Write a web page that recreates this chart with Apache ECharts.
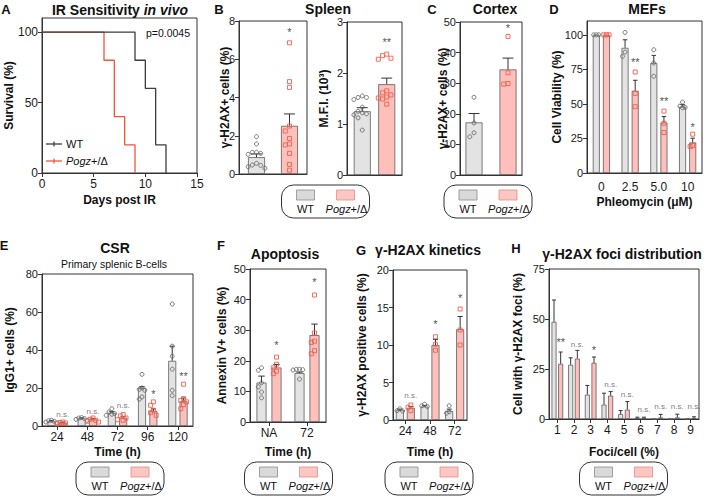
<!DOCTYPE html>
<html><head><meta charset="utf-8">
<script src="https://cdn.jsdelivr.net/npm/echarts@6/dist/echarts.min.js"></script>
<style>html,body{margin:0;padding:0;background:#fff}#c{width:709px;height:500px}</style>
</head><body><div id="c"></div>
<script>
// ================= DATA =================
// Panel A – survival (Kaplan-Meier)
const aWtDays = [0, 9, 10, 11, 12];
const aWtSurv = [100, 80, 60, 20, 0];
const aPzDays = [0, 6, 7, 8, 9];
const aPzSurv = [100, 80, 40, 20, 0];
const aXTicks = [0, 5, 10, 15];
const aYTicks = [0, 50, 100];
const aPValue = 'p=0.0045';

// Panel B (left) – γ-H2AX+ cells (%)
const b1WtMean = [0.88], b1WtErr = [1.05];
const b1PzMean = [2.52], b1PzErr = [3.14];
const b1WtPts = [[1.95, 1.57, 1.13, 1.13, 1.08, 1.03, 0.56, 0.47, 0.45, 0.38, 0.3]];
const b1PzPts = [[6.86, 4.83, 4.53, 2.51, 2.25, 1.86, 1.57, 1.52, 1.08, 0.5, 0.2]];
const b1Annot = [[0, 7.44, '*']];
const b1YTicks = [0, 2, 4, 6, 8];

// Panel B (right) – M.F.I.
const b2WtMean = [1.25], b2WtErr = [1.32];
const b2PzMean = [1.78], b2PzErr = [1.9];
const b2WtPts = [[1.55, 1.52, 1.52, 1.48, 1.33, 1.25, 1.22, 1.2, 1.18, 1.12, 0.88]];
const b2PzPts = [[2.37, 2.34, 2.29, 2.27, 1.65, 1.61, 1.57, 1.53, 1.51, 1.49, 1.39]];
const b2Annot = [[0, 2.6, '**']];
const b2YTicks = [0, 1, 2, 3];

// Panel C – Cortex
const cWtMean = [17.2], cWtErr = [20.1];
const cPzMean = [34.5], cPzErr = [38.2];
const cWtPts = [[25.4, 17.0, 13.8, 12.5]];
const cPzPts = [[45.3, 33.4, 29.9, 29.7]];
const cAnnot = [[0, 48, '*']];
const cYTicks = [0, 10, 20, 30, 40, 50];

// Panel D – MEFs
const dCats = ['0', '2.5', '5.0', '10'];
const dWtMean = [100, 90.6, 79.6, 48.0], dWtErr = [100, 96.4, 85.1, 49.6];
const dPzMean = [100, 59.5, 36.5, 22.1], dPzErr = [100, 67.1, 40.8, 25.2];
const dWtPts = [[100, 100, 100], [101.7, 87.5, 84.4], [89.2, 79.6, 70.0], [51.3, 48.4, 47.5, 47.2]];
const dPzPts = [[100, 100, 100], [73.1, 57.6, 48.0], [44.8, 36.0, 29.3], [28.1, 19.9, 19.2]];
const dAnnot = [[1, 80.3, '**'], [2, 52, '**'], [3, 33.6, '*']];
const dYTicks = [0, 25, 50, 75, 100];

// Panel E – CSR
const eCats = ['24', '48', '72', '96', '120'];
const eWtMean = [2.5, 4.0, 7.0, 20.0, 34.3], eWtErr = [2.9, 4.3, 7.6, 20.8, 42.0];
const ePzMean = [1.8, 3.5, 4.4, 7.9, 13.0], ePzErr = [2.0, 3.9, 5.0, 9.0, 14.7];
const eWtPts = [[3.0, 2.8, 2.5, 2.1, 1.6], [4.4, 4.2, 3.9, 3.5, 3.0], [9.1, 7.4, 6.5, 6.2, 5.6],
                [27.2, 20.0, 19.3, 18.8, 15.3, 14.1], [64.2, 42.0, 36.7, 29.9, 18.8, 16.0]];
const ePzPts = [[2.1, 1.8, 1.6, 1.2], [4.2, 3.5, 3.0, 2.5, 2.1], [6.0, 5.3, 4.2, 3.3, 3.0],
                [12.7, 10.9, 8.3, 7.0, 5.6], [22.0, 14.4, 13.5, 12.7, 11.2, 9.1]];
const eAnnot = [[0, 6.2, 'n.s.'], [1, 7.4, 'n.s.'], [2, 10.9, 'n.s.'], [3, 16.9, '*'], [4, 26.5, '**']];
const eYTicks = [0, 20, 40, 60, 80];

// Panel F – Apoptosis
const fCats = ['NA', '72'];
const fWtMean = [12.9, 16.0], fWtErr = [15.0, 16.3];
const fPzMean = [17.8, 28.4], fPzErr = [18.8, 32.0];
const fWtPts = [[17.7, 16.9, 12.8, 11.5, 9.8, 7.9], [17.2, 17.2, 17.1, 17.0, 14.0]];
const fPzPts = [[21.2, 18.9, 17.7, 16.6, 15.8], [41.5, 29.1, 26.4, 26.0, 23.3, 22.3]];
const fAnnot = [[0, 25.1, '*'], [1, 45.6, '*']];
const fYTicks = [0, 10, 20, 30, 40, 50];

// Panel G – γ-H2AX kinetics
const gCats = ['24', '48', '72'];
const gWtMean = [1.33, 1.8, 1.2], gWtErr = [1.45, 1.95, 1.45];
const gPzMean = [1.64, 10.0, 12.1], gPzErr = [1.8, 10.75, 13.8];
const gWtPts = [[1.5, 1.25, 1.2], [2.1, 1.9, 1.8], [1.9, 1.1, 0.9]];
const gPzPts = [[2.0, 1.7, 1.25], [11.1, 10.1, 9.3], [14.8, 12.0, 10.0]];
const gAnnot = [[0, 3.3, 'n.s.'], [1, 12.75, '*'], [2, 16.3, '*']];
const gYTicks = [0, 5, 10, 15, 20];

// Panel H – γ-H2AX foci distribution
const hCats = ['1', '2', '3', '4', '5', '6', '7', '8', '9'];
const hWtMean = [48.6, 27.1, 12.2, 7.2, 2.5, 0.3, 0, 0, 0];
const hWtErr  = [59.5, 30.6, 16.8, 12.9, 4.2, 0.9, 0, 0, 0];
const hPzMean = [27.6, 30.2, 28.1, 11.7, 4.7, 0.3, 0.8, 0.8, 0.4];
const hPzErr  = [33.5, 34.3, 31.0, 13.7, 8.7, 0.9, 2.3, 2.4, 1.1];
const hAnnot = [[0, 38.5, '**'], [1, 37.4, 'n.s.'], [2, 34.7, '*'], [3, 17.3, 'n.s.'], [4, 12.2, 'n.s.'],
                [5, 5.0, 'n.s.'], [6, 6.3, 'n.s.'], [7, 6.3, 'n.s.'], [8, 6.3, 'n.s.']];
const hYTicks = [0, 25, 50, 75];

const groupNames = ['WT', 'Pogz+/Δ'];

// ================= STYLE =================
const FONT = '"Liberation Sans", Arial, Helvetica, sans-serif';
const AX = '#333333';
const WT_FILL = '#e3e3e3', PZ_FILL = '#ffc0bc', BAR_BORDER = '#5c5c5c';
const WT_PT = '#6a6a6a', PZ_PT = '#f0604e';
const WT_LINE = '#3d3d3d', PZ_LINE = '#f2553c';

const grids = [], xAxes = [], yAxes = [], series = [], graphics = [];

function yAxisCfg(gi, o) {
  return {
    gridIndex: gi, type: 'value', min: 0, max: o.max, interval: o.interval,
    axisLine: { show: true, lineStyle: { color: AX, width: 1 } },
    axisTick: { show: true, length: 4, lineStyle: { color: AX }, customValues: o.ticks },
    axisLabel: { fontSize: o.fs || 11, color: '#1a1a1a', margin: 4, fontFamily: FONT, customValues: o.ticks },
    splitLine: { show: false },
    name: o.name, nameLocation: 'middle', nameGap: o.nameGap, nameRotate: 90, nameMoveOverlap: false,
    nameTextStyle: { fontSize: 12, fontWeight: 'bold', color: '#111', fontFamily: FONT }
  };
}

function beeswarm(vals, thr) {
  const order = vals.map((v, i) => i).sort((a, b) => vals[b] - vals[a]);
  const slots = new Array(vals.length), placed = [];
  const seq = [0, -1, 1, -2, 2, -3, 3, -4, 4];
  order.forEach(i => {
    const near = placed.filter(p => Math.abs(vals[p] - vals[i]) < thr).map(p => slots[p]);
    const s = seq.find(q => !near.includes(q));
    slots[i] = s === undefined ? 0 : s;
    placed.push(i);
  });
  return slots;
}

function barPanel(p) {
  const gi = grids.length;
  grids.push({ left: p.l, top: p.t, width: p.w, height: p.h, show: true, borderColor: AX, borderWidth: 1,
               backgroundColor: 'transparent', outerBoundsMode: 'none' });
  xAxes.push({
    gridIndex: gi, type: 'category', data: p.cats,
    axisLine: { show: true, lineStyle: { color: AX } },
    axisTick: { show: !!p.xTicks, alignWithLabel: true, length: 4, lineStyle: { color: AX } },
    axisLabel: { show: !!p.xLabels, fontSize: p.xfs || 11, color: '#1a1a1a', margin: p.xMargin || 5, fontFamily: FONT, interval: 0 },
    name: p.xName || '', nameLocation: 'middle', nameGap: p.xNameGap || 20, nameMoveOverlap: false,
    nameTextStyle: { fontSize: 12, fontWeight: 'bold', color: '#111', fontFamily: FONT }
  });
  yAxes.push(yAxisCfg(gi, { max: p.max, interval: p.interval, ticks: p.yTicks, name: p.yName, nameGap: p.yNameGap, fs: p.yfs }));
  const off = p.bw * (1 + p.gap) / 2;
  const common = { xAxisIndex: gi, yAxisIndex: gi, barWidth: p.bw, barGap: (p.gap * 100) + '%', silent: true };
  series.push(Object.assign({ type: 'bar', name: groupNames[0], data: p.wt,
    itemStyle: { color: WT_FILL, borderColor: BAR_BORDER, borderWidth: 0.8 } }, common));
  series.push(Object.assign({ type: 'bar', name: groupNames[1], data: p.pz,
    itemStyle: { color: PZ_FILL, borderColor: BAR_BORDER, borderWidth: 0.8 } }, common));

  // error bars (SEM, upward)
  const errData = [];
  p.wt.forEach((m, i) => { if (p.wtErr[i] > m) errData.push([i, m, p.wtErr[i], 0]); });
  p.pz.forEach((m, i) => { if (p.pzErr[i] > m) errData.push([i, m, p.pzErr[i], 1]); });
  series.push({
    type: 'custom', xAxisIndex: gi, yAxisIndex: gi, data: errData, z: 4, silent: true,
    itemStyle: { color: '#333' },
    renderItem: (params, api) => {
      const c = api.value(0);
      const b = api.coord([c, api.value(1)]);
      const t = api.coord([c, api.value(2)]);
      const x = b[0] + (api.value(3) ? off : -off);
      const cap = Math.max(2, p.bw * 0.32);
      return { type: 'group', children: [
        { type: 'line', shape: { x1: x, y1: b[1], x2: x, y2: t[1] }, style: { stroke: '#333', lineWidth: 1 } },
        { type: 'line', shape: { x1: x - cap, y1: t[1], x2: x + cap, y2: t[1] }, style: { stroke: '#333', lineWidth: 1 } }
      ] };
    }
  });

  // individual points
  if (p.wtPts) {
    const ptData = [];
    const thr = p.max * 0.035;
    [p.wtPts, p.pzPts].forEach((grp, s) => {
      grp.forEach((vals, ci) => {
        const slots = beeswarm(vals, thr);
        vals.forEach((v, j) => ptData.push([ci, v, s, slots[j]]));
      });
    });
    const sp = p.sp || 4.2;
    series.push({
      type: 'custom', xAxisIndex: gi, yAxisIndex: gi, data: ptData, z: 5, silent: true,
      itemStyle: { color: WT_PT },
      renderItem: (params, api) => {
        const c = api.coord([api.value(0), api.value(1)]);
        const s = api.value(2);
        const x = c[0] + (s ? off : -off) + api.value(3) * sp;
        if (s === 0) return { type: 'circle', shape: { cx: x, cy: c[1], r: 2 },
                              style: { fill: 'none', stroke: WT_PT, lineWidth: 0.9 } };
        return { type: 'rect', shape: { x: x - 2, y: c[1] - 2, width: 4, height: 4 },
                 style: { fill: 'none', stroke: PZ_PT, lineWidth: 0.9 } };
      }
    });
  }

  // significance annotations (above the Pogz bar) – invisible scatter points carrying labels
  if (p.annot) {
    series.push({
      type: 'scatter', xAxisIndex: gi, yAxisIndex: gi, z: 6, silent: true,
      symbol: 'circle', symbolSize: 1, itemStyle: { color: 'rgba(0,0,0,0)' },
      data: p.annot.map(a => [a[0], a[1]]),
      label: {
        show: true, position: 'inside', offset: [off, 0], color: '#222', fontFamily: FONT,
        formatter: (prm) => {
          const t = p.annot[prm.dataIndex][2];
          return t === 'n.s.' ? '{n|n.s.}' : '{s|' + t + '}';
        },
        rich: {
          n: { fontSize: 8, color: '#555555', fontFamily: FONT },
          s: { fontSize: 11, color: '#222222', fontFamily: FONT }
        }
      },
      emphasis: { disabled: true }
    });
  }
}

// ---------- Panel A ----------
(function () {
  const gi = grids.length;
  grids.push({ left: 42, top: 18, width: 155, height: 155, show: true, borderColor: AX, borderWidth: 1, outerBoundsMode: 'none' });
  xAxes.push({
    gridIndex: gi, type: 'value', min: 0, max: 15, interval: 5,
    axisLine: { show: true, lineStyle: { color: AX } },
    axisTick: { show: true, length: 4, lineStyle: { color: AX }, customValues: aXTicks },
    axisLabel: { fontSize: 12, color: '#1a1a1a', margin: 5, fontFamily: FONT, customValues: aXTicks },
    splitLine: { show: false },
    name: 'Days post IR', nameLocation: 'middle', nameGap: 21, nameMoveOverlap: false,
    nameTextStyle: { fontSize: 12, fontWeight: 'bold', color: '#111', fontFamily: FONT }
  });
  yAxes.push(yAxisCfg(gi, { max: 110, interval: 50, ticks: aYTicks, name: 'Survival (%)', nameGap: 27, fs: 12 }));
  series.push({ type: 'line', name: groupNames[1], xAxisIndex: gi, yAxisIndex: gi, step: 'end', symbol: 'none', silent: true,
    data: aPzDays.map((d, i) => [d, aPzSurv[i]]), lineStyle: { color: PZ_LINE, width: 1.3 }, itemStyle: { color: PZ_LINE }, z: 3 });
  series.push({ type: 'line', name: groupNames[0], xAxisIndex: gi, yAxisIndex: gi, step: 'end', symbol: 'none', silent: true,
    data: aWtDays.map((d, i) => [d, aWtSurv[i]]), lineStyle: { color: WT_LINE, width: 1.3 }, itemStyle: { color: WT_LINE }, z: 4 });
})();

barPanel({ l: 239, t: 21, w: 68, h: 153, cats: [''], max: 8, interval: 2, yTicks: b1YTicks,
  yName: 'γ-H2AX+ cells (%)', yNameGap: 8, bw: 17, gap: 0.94, sp: 4.2,
  wt: b1WtMean, wtErr: b1WtErr, pz: b1PzMean, pzErr: b1PzErr, wtPts: b1WtPts, pzPts: b1PzPts, annot: b1Annot });
barPanel({ l: 347, t: 22, w: 55, h: 153, cats: [''], max: 3, interval: 1, yTicks: b2YTicks,
  yName: 'M.F.I. (10³)', yNameGap: 17, bw: 17, gap: 0.44, sp: 4.2,
  wt: b2WtMean, wtErr: b2WtErr, pz: b2PzMean, pzErr: b2PzErr, wtPts: b2WtPts, pzPts: b2PzPts, annot: b2Annot });
barPanel({ l: 460, t: 22, w: 62, h: 153, cats: [''], max: 50, interval: 10, yTicks: cYTicks,
  yName: 'γ-H2AX+ cells (%)', yNameGap: 11, bw: 17, gap: 1.0, sp: 4.2,
  wt: cWtMean, wtErr: cWtErr, pz: cPzMean, pzErr: cPzErr, wtPts: cWtPts, pzPts: cPzPts, annot: cAnnot });
barPanel({ l: 587, t: 21, w: 115, h: 152, cats: dCats, max: 110, interval: 25, yTicks: dYTicks, xLabels: true, xfs: 12, xMargin: 8,
  yName: 'Cell Viability (%)', yNameGap: 24, xName: 'Phleomycin (μM)', xNameGap: 23, bw: 7, gap: 0.45, sp: 2.6,
  wt: dWtMean, wtErr: dWtErr, pz: dPzMean, pzErr: dPzErr, wtPts: dWtPts, pzPts: dPzPts, annot: dAnnot });
barPanel({ l: 42, t: 274, w: 151, h: 152, cats: eCats, max: 80, interval: 20, yTicks: eYTicks, xLabels: true, xTicks: true, xfs: 12,
  yName: 'IgG1+ cells (%)', yNameGap: 26, xName: 'Time (h)', xNameGap: 20, bw: 8, gap: 0.42, sp: 2.8,
  wt: eWtMean, wtErr: eWtErr, pz: ePzMean, pzErr: ePzErr, wtPts: eWtPts, pzPts: ePzPts, annot: eAnnot });
barPanel({ l: 250, t: 269, w: 76, h: 153, cats: fCats, max: 50, interval: 10, yTicks: fYTicks, xLabels: true, xTicks: true, xfs: 12,
  yName: 'Annexin V+ cells (%)', yNameGap: 22, xName: 'Time (h)', xNameGap: 24, bw: 10, gap: 0.5, sp: 3.2,
  wt: fWtMean, wtErr: fWtErr, pz: fPzMean, pzErr: fPzErr, wtPts: fWtPts, pzPts: fPzPts, annot: fAnnot });
barPanel({ l: 393, t: 270, w: 74, h: 150, cats: gCats, max: 20, interval: 5, yTicks: gYTicks, xLabels: true, xTicks: true, xfs: 12,
  yName: 'γ-H2AX positive cells (%)', yNameGap: 25, xName: 'Time (h)', xNameGap: 26, bw: 8, gap: 0.37, sp: 2.8,
  wt: gWtMean, wtErr: gWtErr, pz: gPzMean, pzErr: gPzErr, wtPts: gWtPts, pzPts: gPzPts, annot: gAnnot });
barPanel({ l: 549, t: 269, w: 150, h: 150, cats: hCats, max: 75, interval: 25, yTicks: hYTicks, xLabels: true, xTicks: true, xfs: 12,
  yName: 'Cell with γ-H2AX foci (%)', yNameGap: 25, xName: 'Foci/cell (%)', xNameGap: 27, bw: 5, gap: 0.33,
  wt: hWtMean, wtErr: hWtErr, pz: hPzMean, pzErr: hPzErr, annot: hAnnot });

// ================= GRAPHIC TEXT / LEGENDS =================
function txt(x, y, text, o) {
  graphics.push({ type: 'text', x: x, y: y, silent: true,
    style: Object.assign({ text: text, fontFamily: FONT, fontSize: 11, fill: '#111',
      align: 'center', verticalAlign: 'middle', textAlign: 'center', textVerticalAlign: 'middle' }, o || {}) });
}
const B = { fontWeight: 'bold', fontSize: 14 };
// panel letters
[['A', 6, 9], ['B', 219, 9], ['C', 432, 9], ['D', 554, 9], ['E', 4, 245], ['F', 221, 245], ['G', 361, 250], ['H', 516, 248]]
  .forEach(l => txt(l[1], l[2], l[0], { fontWeight: 'bold', fontSize: 13 }));
// titles
txt(120, 10, '{b|IR Sensitivity }{bi|in vivo}', { rich: {
  b: { fontWeight: 'bold', fontSize: 14, fontFamily: FONT },
  bi: { fontWeight: 'bold', fontStyle: 'italic', fontSize: 14, fontFamily: FONT } } });
txt(328, 9, 'Spleen', B);
txt(495, 9, 'Cortex', B);
txt(647, 9, 'MEFs', B);
txt(115, 248, 'CSR', B);
txt(114, 264, 'Primary splenic B-cells', { fontSize: 10.5 });
txt(285, 254, 'Apoptosis', B);
txt(428, 250, 'γ-H2AX kinetics', B);
txt(622, 254, 'γ-H2AX foci distribution', B);
// p-value
txt(168, 33, aPValue, { fontSize: 10.5 });

// Panel A legend
function kmLegend(y, color, label, rich) {
  graphics.push({ type: 'line', shape: { x1: 46, y1: y, x2: 62, y2: y }, style: { stroke: color, lineWidth: 1.3 }, silent: true });
  graphics.push({ type: 'line', shape: { x1: 54, y1: y - 2.5, x2: 54, y2: y + 2.5 }, style: { stroke: color, lineWidth: 1.2 }, silent: true });
  txt(66, y, label, Object.assign({ align: 'left', textAlign: 'left', fontSize: 11 }, rich || {}));
}
kmLegend(144, WT_LINE, 'WT');
kmLegend(161, PZ_LINE, '{i|Pogz}+/Δ', { rich: { i: { fontStyle: 'italic', fontSize: 11, fontFamily: FONT } } });

// Group legend boxes
function legendBox(cx, top) {
  const w = 88, h = 33;
  graphics.push({ type: 'rect', silent: true, shape: { x: cx - w / 2, y: top, width: w, height: h, r: 12 },
    style: { fill: 'none', stroke: '#333', lineWidth: 1 } });
  graphics.push({ type: 'rect', silent: true, shape: { x: cx - 20 - 9, y: top + 5, width: 18, height: 10 },
    style: { fill: '#d9d9d9', stroke: '#8c8c8c', lineWidth: 0.8 } });
  graphics.push({ type: 'rect', silent: true, shape: { x: cx + 20 - 9, y: top + 5, width: 18, height: 10 },
    style: { fill: '#fcc6c2', stroke: '#e28d86', lineWidth: 0.8 } });
  txt(cx - 20, top + 24, groupNames[0], { fontSize: 11 });
  txt(cx + 21, top + 24, '{i|Pogz}+/Δ', { fontSize: 11, rich: { i: { fontStyle: 'italic', fontSize: 11, fontFamily: FONT } } });
}
legendBox(325.5, 185);
legendBox(488, 185);
legendBox(120, 462);
legendBox(288.5, 462);
legendBox(429, 462);
legendBox(623.5, 462);

// ================= CHART =================
const chart = echarts.init(document.getElementById('c'), null, { renderer: 'svg', width: 709, height: 500 });
chart.setOption({
  animation: false,
  backgroundColor: '#ffffff',
  textStyle: { fontFamily: FONT },
  grid: grids, xAxis: xAxes, yAxis: yAxes, series: series,
  graphic: { elements: graphics }
});
</script>
</body></html>
